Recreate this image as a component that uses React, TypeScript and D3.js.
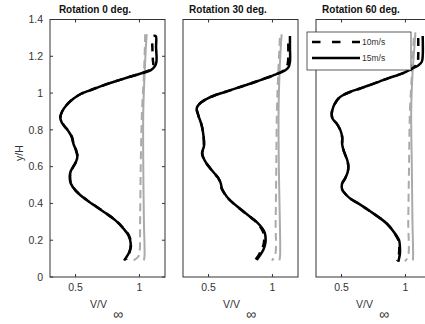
import { useEffect, useRef } from "react";
import * as d3 from "d3";

// [V/Vinf, y/H] pairs, top to bottom
const titles = ["Rotation 0 deg.", "Rotation 30 deg.", "Rotation 60 deg."];
const yTicks = [0, 0.2, 0.4, 0.6, 0.8, 1, 1.2, 1.4];
const xTicks = [0.5, 1];
const legendLabels = ["10m/s", "15m/s"];

const black15_0 = [[1.11,1.31],[1.128,1.31],[1.13,1.25],[1.133,1.17],[1.12,1.145],[1.09,1.125],[1.004,1.105],[0.9,1.083],[0.795,1.06],[0.7,1.038],[0.613,1.015],[0.54,0.995],[0.48,0.968],[0.43,0.935],[0.395,0.9],[0.38,0.87],[0.392,0.84],[0.417,0.816],[0.447,0.79],[0.47,0.761],[0.483,0.725],[0.503,0.689],[0.514,0.653],[0.505,0.63],[0.488,0.608],[0.462,0.575],[0.455,0.545],[0.462,0.51],[0.5,0.47],[0.587,0.418],[0.665,0.381],[0.74,0.345],[0.81,0.309],[0.874,0.264],[0.915,0.225],[0.932,0.18],[0.92,0.135],[0.89,0.1],[0.88,0.09]];
const black10_0 = [[1.1,1.27],[1.105,1.18],[1.108,1.15],[1.085,1.127],[1.0,1.105],[0.9,1.083],[0.795,1.06],[0.7,1.038],[0.613,1.015],[0.54,0.995],[0.48,0.968],[0.43,0.935],[0.395,0.9],[0.382,0.87],[0.394,0.84],[0.419,0.816],[0.449,0.79],[0.472,0.761],[0.485,0.725],[0.505,0.689],[0.516,0.653],[0.507,0.63],[0.49,0.608],[0.464,0.575],[0.457,0.545],[0.464,0.51],[0.502,0.47],[0.589,0.418],[0.667,0.381],[0.742,0.345],[0.812,0.309],[0.876,0.264],[0.918,0.225],[0.935,0.18],[0.925,0.14],[0.908,0.11],[0.895,0.095]];
const gray15_0 = [[1.057,1.32],[1.05,1.25],[1.04,1.1],[1.03,0.9],[1.03,0.6],[1.035,0.3],[1.04,0.12],[1.035,0.09]];
const gray10_0 = [[1.045,1.32],[1.035,1.1],[1.02,0.9],[1.01,0.6],[1.005,0.3],[1.0,0.13],[0.99,0.11],[0.955,0.09]];

const black15_30 = [[1.137,1.31],[1.137,1.25],[1.137,1.17],[1.125,1.14],[1.098,1.123],[1.007,1.096],[0.935,1.078],[0.863,1.06],[0.785,1.042],[0.707,1.024],[0.628,1.006],[0.55,0.988],[0.49,0.97],[0.446,0.951],[0.415,0.93],[0.407,0.915],[0.42,0.879],[0.446,0.825],[0.46,0.77],[0.465,0.716],[0.455,0.69],[0.451,0.671],[0.465,0.64],[0.485,0.617],[0.537,0.571],[0.575,0.54],[0.595,0.51],[0.605,0.48],[0.625,0.455],[0.655,0.427],[0.705,0.395],[0.759,0.364],[0.82,0.33],[0.876,0.3],[0.92,0.265],[0.94,0.24],[0.947,0.2],[0.94,0.17],[0.928,0.147],[0.9,0.115],[0.877,0.092]];
const black10_30 = [[1.124,1.27],[1.124,1.2],[1.12,1.16],[1.1,1.13],[1.007,1.096],[0.935,1.078],[0.863,1.06],[0.785,1.042],[0.707,1.024],[0.628,1.006],[0.55,0.988],[0.49,0.97],[0.446,0.951],[0.415,0.93],[0.407,0.915],[0.42,0.879],[0.446,0.825],[0.46,0.77],[0.463,0.716],[0.453,0.69],[0.449,0.671],[0.463,0.64],[0.483,0.617],[0.535,0.571],[0.573,0.54],[0.593,0.51],[0.603,0.48],[0.623,0.455],[0.653,0.427],[0.703,0.395],[0.757,0.364],[0.818,0.33],[0.872,0.3],[0.912,0.265],[0.93,0.24],[0.935,0.2],[0.928,0.17],[0.915,0.15],[0.885,0.11],[0.862,0.09]];
const gray15_30 = [[1.072,1.32],[1.065,1.25],[1.055,1.1],[1.048,0.9],[1.05,0.6],[1.058,0.3],[1.06,0.12],[1.055,0.09]];
const gray10_30 = [[1.058,1.3],[1.045,1.1],[1.035,0.9],[1.03,0.6],[1.025,0.3],[1.02,0.115],[0.995,0.09]];

const black15_60 = [[1.135,1.31],[1.135,1.2],[1.128,1.17],[1.1,1.15],[1.05,1.132],[1.0,1.114],[0.95,1.1],[0.879,1.084],[0.8,1.064],[0.723,1.044],[0.645,1.025],[0.566,1.006],[0.51,0.988],[0.475,0.97],[0.45,0.945],[0.435,0.924],[0.423,0.888],[0.43,0.86],[0.462,0.834],[0.49,0.8],[0.505,0.76],[0.505,0.72],[0.52,0.68],[0.545,0.635],[0.553,0.6],[0.548,0.57],[0.527,0.535],[0.503,0.505],[0.505,0.475],[0.527,0.454],[0.57,0.425],[0.631,0.4],[0.69,0.373],[0.748,0.346],[0.853,0.291],[0.918,0.237],[0.95,0.2],[0.957,0.16],[0.957,0.129],[0.95,0.1],[0.944,0.083]];
const black10_60 = [[1.1,1.3],[1.1,1.2],[1.095,1.165],[1.07,1.142],[1.03,1.124],[0.98,1.108],[0.95,1.1],[0.879,1.084],[0.8,1.064],[0.723,1.044],[0.645,1.025],[0.566,1.006],[0.51,0.988],[0.475,0.97],[0.45,0.945],[0.435,0.924],[0.423,0.888],[0.43,0.86],[0.462,0.834],[0.49,0.8],[0.505,0.76],[0.505,0.72],[0.52,0.68],[0.545,0.635],[0.553,0.6],[0.548,0.57],[0.527,0.535],[0.503,0.505],[0.505,0.475],[0.527,0.454],[0.57,0.425],[0.631,0.4],[0.69,0.373],[0.748,0.346],[0.853,0.291],[0.915,0.237],[0.945,0.2],[0.952,0.16],[0.95,0.129],[0.943,0.1],[0.935,0.085]];
const gray15_60 = [[1.078,1.33],[1.07,1.25],[1.055,1.1],[1.045,0.9],[1.05,0.6],[1.055,0.3],[1.06,0.12],[1.058,0.09]];
const gray10_60 = [[1.065,1.3],[1.05,1.1],[1.035,0.9],[1.028,0.6],[1.022,0.3],[1.02,0.11],[0.995,0.085]];

const panels = [
  { black15: black15_0, black10: black10_0, gray15: gray15_0, gray10: gray10_0 },
  { black15: black15_30, black10: black10_30, gray15: gray15_30, gray10: gray10_30 },
  { black15: black15_60, black10: black10_60, gray15: gray15_60, gray10: gray10_60 },
];

const W = 425;
const H = 324;

export default function App() {
  const ref = useRef(null);

  useEffect(() => {
    const svg = d3.select(ref.current);
    svg.selectAll("*").remove();

    const font = "'Liberation Sans', Arial, sans-serif";
    const axisColor = "#333";
    const grayColor = "#aaaaaa";
    const lefts = [50, 183, 316];
    const pw = 115;
    const top = 19.5;
    const bottom = 277;

    const y = d3.scaleLinear().domain([0, 1.4]).range([bottom, top]);

    panels.forEach((p, i) => {
      const x = d3.scaleLinear().domain([0.3, 1.2]).range([lefts[i], lefts[i] + pw]);
      const g = svg.append("g");
      const line = d3.line()
        .x(d => x(d[0]))
        .y(d => y(d[1]))
        .curve(d3.curveCatmullRom);

      // box
      g.append("rect")
        .attr("x", lefts[i]).attr("y", top)
        .attr("width", pw).attr("height", bottom - top)
        .attr("fill", "white").attr("stroke", axisColor).attr("stroke-width", 1);

      // x ticks (bottom + top, inward)
      xTicks.forEach(t => {
        g.append("line")
          .attr("x1", x(t)).attr("x2", x(t))
          .attr("y1", bottom).attr("y2", bottom - 3)
          .attr("stroke", axisColor);
        g.append("line")
          .attr("x1", x(t)).attr("x2", x(t))
          .attr("y1", top).attr("y2", top + 3)
          .attr("stroke", axisColor);
        g.append("text")
          .attr("x", x(t)).attr("y", 291)
          .attr("text-anchor", "middle")
          .attr("font-family", font).attr("font-size", 10.5).attr("fill", axisColor)
          .text(String(t));
      });

      if (i === 0) {
        yTicks.forEach(t => {
          g.append("line")
            .attr("x1", lefts[i]).attr("x2", lefts[i] + 3)
            .attr("y1", y(t)).attr("y2", y(t))
            .attr("stroke", axisColor);
          g.append("line")
            .attr("x1", lefts[i] + pw).attr("x2", lefts[i] + pw - 3)
            .attr("y1", y(t)).attr("y2", y(t))
            .attr("stroke", axisColor);
          g.append("text")
            .attr("x", 43).attr("y", y(t) + 3.7)
            .attr("text-anchor", "end")
            .attr("font-family", font).attr("font-size", 10.5).attr("fill", axisColor)
            .text(String(t));
        });
        g.append("text")
          .attr("transform", `translate(23,153) rotate(-90)`)
          .attr("text-anchor", "middle")
          .attr("font-family", font).attr("font-size", 10.5).attr("fill", axisColor)
          .text("y/H");
      }

      // x label V/V with infinity subscript
      const xl = g.append("text")
        .attr("x", lefts[i] + 40).attr("y", 308)
        .attr("font-family", font).attr("font-size", 10.5).attr("fill", axisColor);
      xl.append("tspan").text("V/V");
      xl.append("tspan").attr("dy", 11).attr("dx", 6).attr("font-size", 14).text("∞");

      // title
      g.append("text")
        .attr("x", lefts[i] + 45).attr("y", 12.5)
        .attr("text-anchor", "middle")
        .attr("font-family", font).attr("font-size", 10).attr("font-weight", "bold")
        .attr("fill", "#111")
        .text(titles[i]);

      // curves
      const clipId = `clip${i}`;
      svg.append("clipPath").attr("id", clipId)
        .append("rect").attr("x", lefts[i]).attr("y", top).attr("width", pw).attr("height", bottom - top);
      const lines = g.append("g").attr("clip-path", `url(#${clipId})`);

      lines.append("path").datum(p.gray15).attr("d", line)
        .attr("fill", "none").attr("stroke", grayColor).attr("stroke-width", 2);
      lines.append("path").datum(p.gray10).attr("d", line)
        .attr("fill", "none").attr("stroke", grayColor).attr("stroke-width", 2)
        .attr("stroke-dasharray", "8,5");
      lines.append("path").datum(p.black15).attr("d", line)
        .attr("fill", "none").attr("stroke", "black").attr("stroke-width", 2.5)
        .attr("stroke-linejoin", "round");
      lines.append("path").datum(p.black10).attr("d", line)
        .attr("fill", "none").attr("stroke", "black").attr("stroke-width", 2.5)
        .attr("stroke-dasharray", "8,6");
    });

    // legend
    const lg = svg.append("g");
    lg.append("rect")
      .attr("x", 307).attr("y", 32).attr("width", 104).attr("height", 38)
      .attr("fill", "white").attr("stroke", axisColor).attr("stroke-width", 0.8);
    legendLabels.forEach((lab, k) => {
      const ly = 42 + k * 16;
      lg.append("line")
        .attr("x1", 312).attr("x2", 360).attr("y1", ly).attr("y2", ly)
        .attr("stroke", "black").attr("stroke-width", 2.5)
        .attr("stroke-dasharray", k === 0 ? "8.5,11.5" : null);
      lg.append("text")
        .attr("x", 362).attr("y", ly + 3)
        .attr("font-family", font).attr("font-size", 8.5).attr("fill", axisColor)
        .text(lab);
    });
  }, []);

  return (
    <svg ref={ref} width={W} height={H}
      style={{ position: "absolute", left: 0, top: 0, background: "white" }} />
  );
}
